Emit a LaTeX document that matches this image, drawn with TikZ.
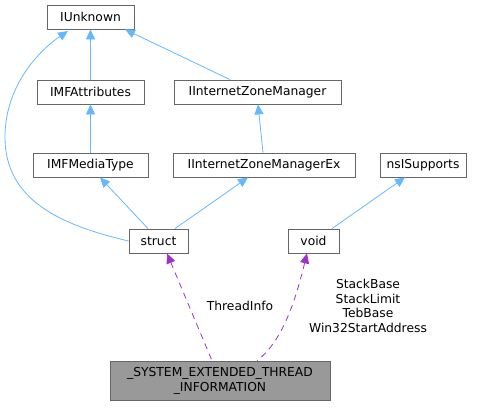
\documentclass[tikz,border=0pt]{standalone}
\usepackage{fontspec}
\setmainfont{DejaVu Sans}
\usetikzlibrary{arrows.meta, positioning}

\definecolor{inhblue}{HTML}{63B8FF}
\definecolor{usepurple}{HTML}{9A32CD}
\definecolor{boxgray}{HTML}{666666}
\definecolor{maingray}{HTML}{999999}

\begin{document}
\begin{tikzpicture}[
    x=1pt, y=-1pt,
    cls/.style={
        draw=boxgray,
        fill=white,
        line width=0.8pt,
        align=center,
        minimum height=24pt,
        inner sep=1pt,
        font=\fontsize{12.3}{14.8}\selectfont
    },
    mainbox/.style={
        cls,
        fill=maingray,
        minimum height=39pt
    },
    inherit/.style={
        <-,
        >={Triangle[length=10pt, width=9pt, fill=inhblue]},
        line width=0.8pt,
        draw=inhblue
    },
    member/.style={
        <-,
        >={Triangle[length=10pt, width=9pt, fill=usepurple]},
        line width=0.8pt,
        draw=usepurple,
        dash pattern=on 6pt off 5pt
    },
    lbl/.style={
        align=center,
        font=\fontsize{12.3}{14.5}\selectfont
    }
]
\useasboundingbox (0,0) rectangle (484,407);

% Nodes
\node (unknown) [cls, minimum width=87pt] at (90.5,17) {IUnknown};
\node (mfattr) [cls, minimum width=107pt] at (90.5,92) {IMFAttributes};
\node (izm) [cls, minimum width=167pt] at (257.5,92) {IInternetZoneManager};
\node (mfmedia) [cls, minimum width=115pt] at (90.5,165) {IMFMediaType};
\node (izmex) [cls, minimum width=182pt] at (264,165) {IInternetZoneManagerEx};
\node (nssup) [cls, minimum width=86pt] at (423,165) {nsISupports};
\node (struct) [cls, minimum width=59pt] at (158.5,241) {struct};
\node (void) [cls, minimum width=51pt] at (313.5,241) {void};
\node (sysinfo) [mainbox, minimum width=220pt] at (220,380.5) {\_SYSTEM\_EXTENDED\_THREAD\\\_INFORMATION};

% Paths
\draw [inherit] (unknown) -- (mfattr);
\draw [inherit] (unknown.south -| 125,0) -- (izm.north -| 230,0);
\draw [inherit] (mfattr) -- (mfmedia);
\draw [inherit] (izm.south -| 258,0) -- (izmex.north -| 263,0);
\draw [inherit] (mfmedia.south -| 100,0) -- (struct.north -| 148,0);
\draw [inherit] (izmex.south -| 248,0) -- (struct.north -| 175,0);
\draw [inherit] (nssup.south -| 405,0) -- (void.north -| 332,0);
\draw [inherit] (68,31) .. controls (40,50) and (5,85) .. (5,137)
    .. controls (5,200) and (60,225) .. (struct.west);

\draw [member] (struct.south -| 167,0) -- (sysinfo.north -| 212,0);
\draw [member] (void.south -| 307,0) .. controls (298,290) and (285,340) .. (sysinfo.north -| 257,0);

% Labels
\node (lthread) [lbl] at (240,306) {ThreadInfo};
\node (lstack) [lbl] at (368,306) {StackBase\\StackLimit\\TebBase\\Win32StartAddress};

\end{tikzpicture}
\end{document}
